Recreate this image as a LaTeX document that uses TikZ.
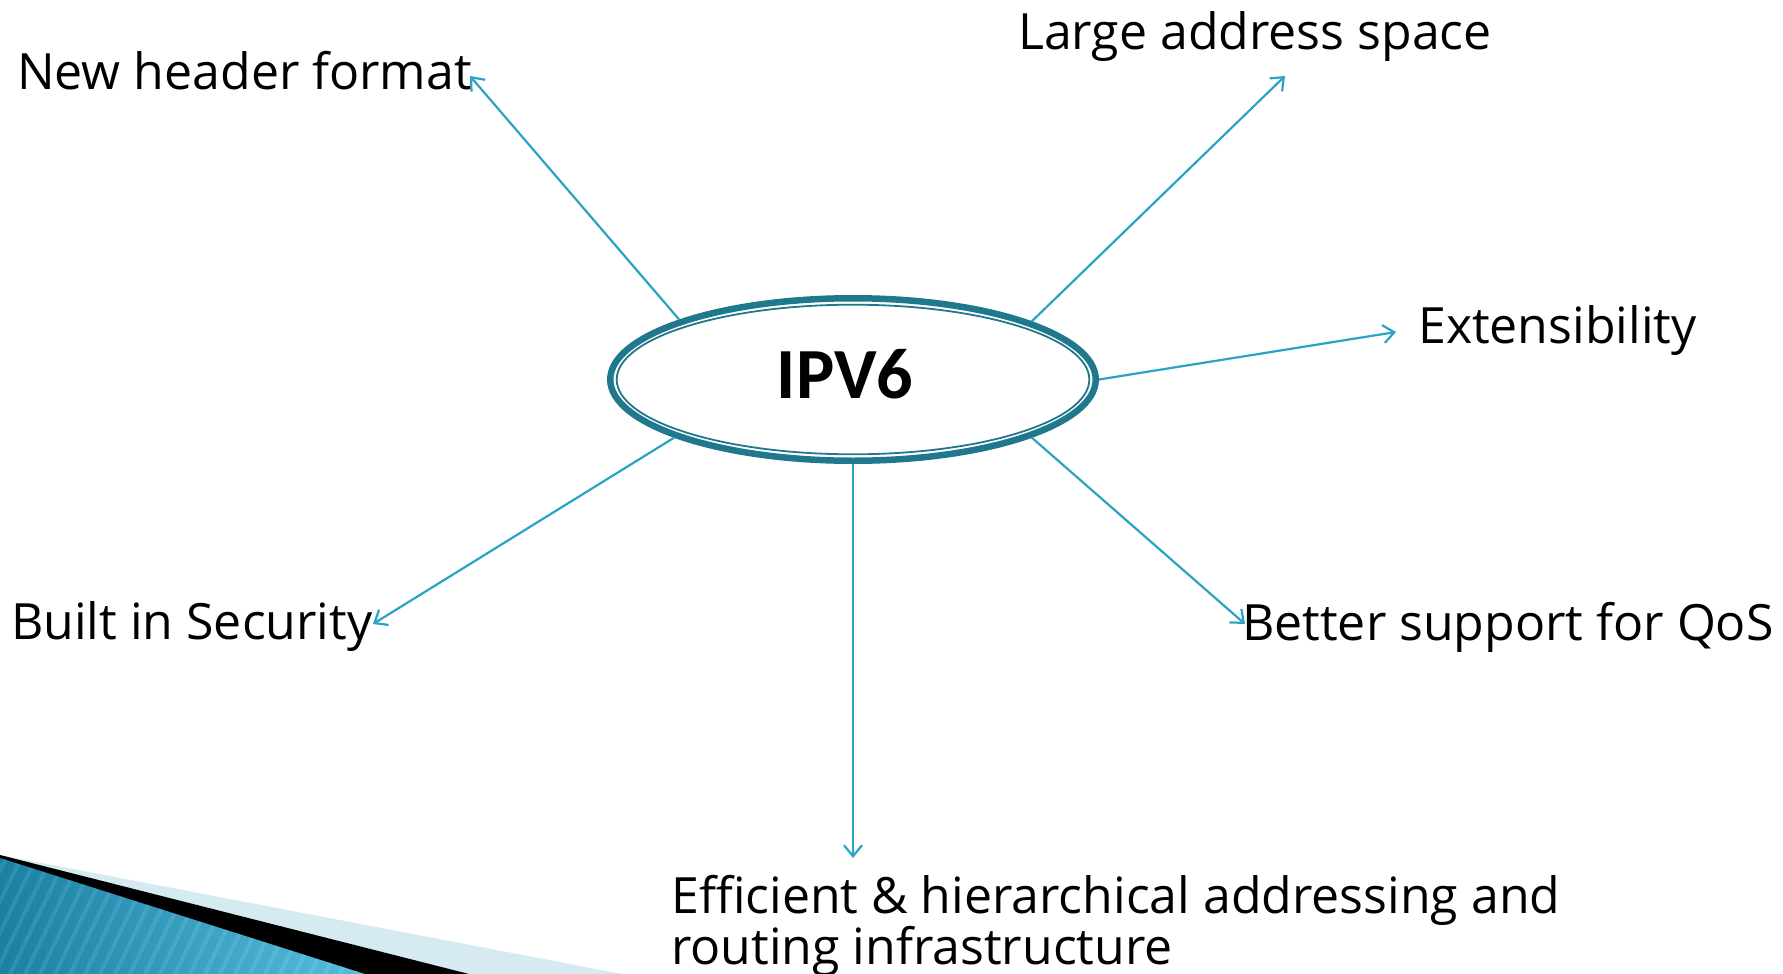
\documentclass[tikz,border=0pt]{standalone}
\usepackage{fontspec}
\setmainfont{Open Sans}
\newfontfamily\titlefont{Carlito}
\usetikzlibrary{arrows.meta,shapes.geometric}

\definecolor{ringteal}{RGB}{31,120,140}
\definecolor{spokeblue}{RGB}{42,163,196}
\definecolor{paleblue}{RGB}{214,234,241}
\definecolor{deepblue}{RGB}{24,128,163}
\definecolor{lightblue}{RGB}{88,190,224}

\begin{document}
\begin{tikzpicture}[x=1pt,y=-1pt,
  feature/.style={font=\fontsize{50}{50.5}\selectfont, inner sep=0pt, anchor=base west},
  spoke/.style={draw=spokeblue, line width=2.2pt,
    -{Straight Barb[length=11pt,width=18pt,line width=2.2pt]}},
]
\useasboundingbox (0,0) rectangle (1783,974);
\fill[white] (0,0) rectangle (1783,974);

% corner decoration: pale wedge, black wedge, striped blue wedge
\fill[paleblue] (0,855) -- (622,974) -- (0,974) -- cycle;
\fill[black] (0,855) -- (469,974) -- (0,974) -- cycle;
\begin{scope}
  \clip (0,858) -- (365,974) -- (0,974) -- cycle;
  \shade[left color=deepblue, right color=lightblue] (0,850) rectangle (370,974);
  \foreach \s in {-200,-185,...,400}
    \draw[white, opacity=0.10, line width=4pt] (\s,974) -- (\s+60,850);
\end{scope}

% central ellipse; the title sits a little left of and above its centre
\node[ellipse, minimum width=492pt, minimum height=169pt, inner sep=0pt, outer sep=0pt]
  (ipv6) at (853,379.5)
  {\makebox[0pt][c]{\hspace{-16pt}\raisebox{-18.5pt}[0pt][0pt]{\titlefont\bfseries\fontsize{72}{80}\selectfont IPV6}}};
\draw[ringteal, line width=6.5pt] (ipv6.center) ellipse [x radius=242.75pt, y radius=81.25pt];
\draw[ringteal, line width=1.8pt] (ipv6.center) ellipse [x radius=236.3pt, y radius=74.8pt];

% feature labels
\node[feature] (hdr) at (17,89) {New header format};
\node[feature] (addr) at (1018,50) {Large address space};
\node[feature] (ext) at (1418,343) {Extensibility};
\node[feature] (qos) at (1242,640) {Better support for QoS};
\node[feature] (sec) at (11,639) {Built in Security};
\node[feature, anchor=north west, align=left] (route) at (671,875.5)
  {Efficient \& hierarchical addressing and\\routing infrastructure};

% arrow tips
\coordinate (thdr) at (470,76);
\coordinate (taddr) at (1285,76);
\coordinate (text) at (1396,332);
\coordinate (tqos) at (1245,624);
\coordinate (tsec) at (373,624);
\coordinate (troute) at (853,858);

% spokes
\draw[spoke] (ipv6.161.4) -- (thdr);
\draw[spoke] (ipv6.18.6) -- (taddr);
\draw[spoke] (ipv6.east) -- (text);
\draw[spoke] (ipv6.-18.6) -- (tqos);
\draw[spoke] (ipv6.198.6) -- (tsec);
\draw[spoke] (ipv6.south) -- (troute);
\end{tikzpicture}
\end{document}
